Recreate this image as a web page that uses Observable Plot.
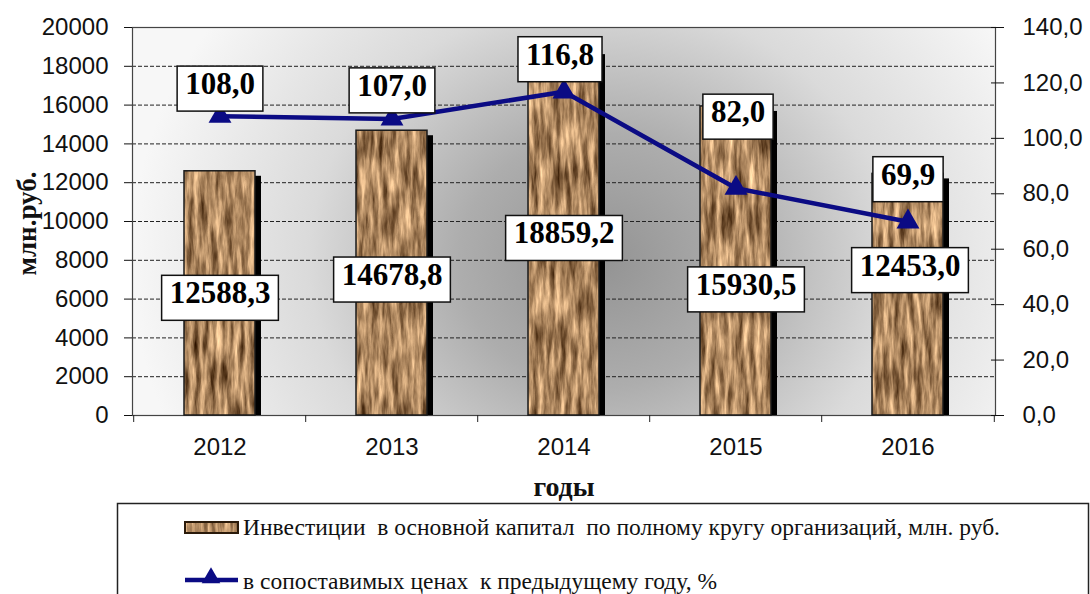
<!DOCTYPE html>
<html><head><meta charset="utf-8">
<script src="https://cdn.jsdelivr.net/npm/d3@7"></script>
<script src="https://cdn.jsdelivr.net/npm/@observablehq/plot@0.6"></script>
<style>
body{margin:0;background:#fff;}
#wrap{position:relative;width:1090px;height:594px;overflow:hidden;}
#legend{position:absolute;left:0;top:500px;}
</style></head><body>
<div id="wrap"><div id="chart"></div><div id="legend"></div></div>
<script>
const years = ["2012", "2013", "2014", "2015", "2016"];
const investments = [12588.3, 14678.8, 18859.2, 15930.5, 12453.0];
const growthPct = [108.0, 107.0, 116.8, 82.0, 69.9];
const leftTicks = [0, 2000, 4000, 6000, 8000, 10000, 12000, 14000, 16000, 18000, 20000];
const rightTicks = [0, 20, 40, 60, 80, 100, 120, 140];
const seriesNames = ["Инвестиции  в основной капитал  по полному кругу организаций, млн. руб.", "в сопоставимых ценах  к предыдущему году, %"];
const yTitle = "млн.руб.";
const xTitle = "годы";

// layout (label nudges in px, not data)
const barLabelNudge = [[0, 0], [0, 2], [0, 1], [10, 24], [2, -29]];
const pctLabelNudge = [[0, -32], [0, -33], [-4, -37], [2, -76], [0, -47]];

const yMax = leftTicks[leftTicks.length - 1];
const rMax = rightTicks[rightTicks.length - 1];
const k = yMax / rMax;
const fmt = v => v.toFixed(1).replace(".", ",");

const W = 1090, H = 500, mL = 132, mR = 95, mT = 27, mB = 85;
const step = (W - mL - mR) / years.length;
const serif = "'Liberation Serif', 'Times New Roman', serif";
const sans = "'Liberation Sans', Arial, sans-serif";
const navy = "#0b0b84";
const woodMatrix = "1.1 0 0 0 0.12  1.0 0 0 0 0.02  0.85 0 0 0 -0.06  0 0 0 0 1";
const woodFreq = "0.18 0.025";

const labelMarks = [];
years.forEach((yr, i) => {
  labelMarks.push(Plot.text([i], {x: d => years[d], y: d => investments[d] / 2, text: d => fmt(investments[d]),
    dx: barLabelNudge[i][0], dy: barLabelNudge[i][1], fontSize: 31, fontWeight: "bold", fontFamily: serif, fill: "#000", className: "boxlbl"}));
  labelMarks.push(Plot.text([i], {x: d => years[d], y: d => growthPct[d] * k, text: d => fmt(growthPct[d]),
    dx: pctLabelNudge[i][0], dy: pctLabelNudge[i][1], fontSize: 31, fontWeight: "bold", fontFamily: serif, fill: "#000", className: "boxlbl"}));
});

const chart = Plot.plot({
  width: W, height: H, marginLeft: mL, marginRight: mR, marginTop: mT, marginBottom: mB,
  style: {background: "transparent", overflow: "visible", color: "#111"},
  x: {domain: years, paddingInner: 0.59, paddingOuter: 0.295},
  y: {domain: [0, yMax]},
  marks: [
    Plot.frame({fill: "url(#bgGrad)", stroke: null}),
    Plot.ruleY(leftTicks.slice(1, -1), {stroke: "#222", strokeDasharray: "4,2", strokeWidth: 1}),
    Plot.frame({stroke: "#444", strokeWidth: 1.2}),
    Plot.ruleX(years, {dx: -step / 2, insetTop: H - mT - mB, insetBottom: -7, stroke: "#222"}),
    Plot.ruleX(years.slice(-1), {dx: step / 2, insetTop: H - mT - mB, insetBottom: -7, stroke: "#222"}),
    Plot.barY(investments, {x: years, y: investments, fill: "#000", dx: 6, insetTop: 5}),
    Plot.barY(investments, {x: years, y: investments, fill: "url(#wood)", stroke: "#1a1a1a", strokeWidth: 1.5}),
    Plot.line(growthPct, {x: years, y: growthPct.map(v => v * k), stroke: navy, strokeWidth: 4.5}),
    Plot.dot(growthPct, {x: years, y: growthPct.map(v => v * k), symbol: "triangle", r: 8.5, fill: navy, stroke: null}),
    Plot.axisY({ticks: leftTicks, tickSize: 8, tickPadding: 16, fontSize: 24, fontFamily: sans, label: null, tickFormat: d => String(d)}),
    Plot.axisY({anchor: "right", ticks: rightTicks.map(v => v * k), tickSize: 13, dx: -5, tickPadding: 0, tickFormat: () => "", label: null}),
    Plot.axisY({anchor: "right", ticks: rightTicks.map(v => v * k), tickSize: 0, tickPadding: 27, fontSize: 24, fontFamily: sans, label: null, tickFormat: d => fmt(d / k)}),
    Plot.axisX({tickSize: 0, tickPadding: 22, fontSize: 24, fontFamily: sans, label: null}),
    Plot.text([xTitle], {frameAnchor: "bottom", textAnchor: "middle", dy: 80, fontSize: 28, fontWeight: "bold", fontFamily: serif, fill: "#111"}),
    Plot.text([yTitle], {frameAnchor: "left", textAnchor: "middle", dx: -105, dy: 2, rotate: -90, fontSize: 27, fontWeight: "bold", fontFamily: serif, fill: "#111"}),
    ...labelMarks
  ]
});
document.getElementById("chart").appendChild(chart);

function addWood(defsSel, id, w, h, seed) {
  const f = defsSel.append("filter").attr("id", id + "f").attr("filterUnits", "userSpaceOnUse")
    .attr("x", 0).attr("y", 0).attr("width", w).attr("height", h).attr("color-interpolation-filters", "sRGB");
  f.append("feTurbulence").attr("type", "fractalNoise").attr("baseFrequency", woodFreq).attr("numOctaves", 4).attr("seed", seed);
  f.append("feColorMatrix").attr("type", "matrix").attr("values", woodMatrix);
  const p = defsSel.append("pattern").attr("id", id).attr("patternUnits", "userSpaceOnUse").attr("width", w).attr("height", h);
  p.append("rect").attr("width", w).attr("height", h).attr("filter", `url(#${id}f)`);
}

const svg = d3.select(chart);
const defs = svg.insert("defs", ":first-child");
const g = defs.append("radialGradient").attr("id", "bgGrad").attr("gradientUnits", "userSpaceOnUse")
  .attr("cx", 600).attr("cy", 260).attr("r", 470)
  .attr("gradientTransform", "translate(600 260) scale(1 0.9) translate(-600 -260)");
[[0, "#939393"], [0.3, "#adadad"], [0.62, "#dadada"], [1, "#f7f7f7"]].forEach(([o, c]) => g.append("stop").attr("offset", o).attr("stop-color", c));
addWood(defs, "wood", W, H, 7);

chart.querySelectorAll("g.boxlbl text").forEach(t => {
  const b = t.getBBox();
  const r = document.createElementNS("http://www.w3.org/2000/svg", "rect");
  r.setAttribute("x", b.x - 8); r.setAttribute("y", b.y + 0);
  r.setAttribute("width", b.width + 16); r.setAttribute("height", b.height + 10);
  r.setAttribute("fill", "#fff"); r.setAttribute("stroke", "#111"); r.setAttribute("stroke-width", 1.5);
  if (t.getAttribute("transform")) r.setAttribute("transform", t.getAttribute("transform"));
  t.parentNode.insertBefore(r, t);
});

// legend (below the chart SVG)
const lg = d3.select("#legend").append("svg").attr("width", W).attr("height", 94);
addWood(lg.append("defs"), "wood2", 300, 94, 3);
lg.append("rect").attr("x", 117.5).attr("y", 3.5).attr("width", 971).attr("height", 120).attr("fill", "#fff").attr("stroke", "#222").attr("stroke-width", 1.5);
lg.append("rect").attr("x", 185).attr("y", 22).attr("width", 53).attr("height", 11).attr("fill", "url(#wood2)").attr("stroke", "#2a1a0a").attr("stroke-width", 2);
lg.append("line").attr("x1", 185).attr("x2", 238).attr("y1", 80).attr("y2", 80).attr("stroke", navy).attr("stroke-width", 4.5);
lg.append("path").attr("d", d3.symbol(d3.symbolTriangle, 150)()).attr("transform", "translate(211,78)").attr("fill", navy);
lg.selectAll("text.leg").data(seriesNames).join("text").attr("class", "leg")
  .attr("x", 243).attr("y", (d, i) => i === 0 ? 34.5 : 88.5)
  .attr("font-family", serif).attr("font-size", 23.5).attr("fill", "#111")
  .style("white-space", "pre").text(d => d);
</script></body></html>
